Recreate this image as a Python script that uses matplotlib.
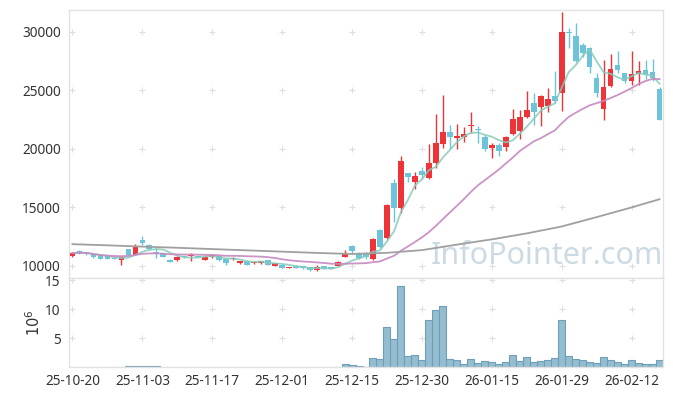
#!/usr/bin/env python3
"""Daily candles + moving averages + volume, 25-10-20 .. 26-02-23."""
import numpy as np
import pandas as pd
import matplotlib
matplotlib.use("Agg")
import matplotlib.pyplot as plt

# OHLC per trading day (KRW)
opens = [10830, 11230, 11170, 11000, 10890, 10800, 10630, 10520, 11430, 10940,
         12230, 11740, 11170, 11085, 10516, 10460, 10800, 10830, 10830, 10500,
         10700, 10800, 10540, 10560, 10200, 10430, 10200, 10200, 10460, 9970,
         10060, 9800, 10000, 9940, 9890, 9600, 9970, 9910, 9970, 10770,
         11650, 10970, 11030, 10544, 13050, 12396, 17040, 14960, 17895, 17182,
         18122, 17496, 18749, 20374, 21399, 20915, 21028, 21912, 21683, 20972,
         20088, 20288, 20117, 21256, 21541, 22738, 23878, 23536, 23678, 24504,
         24732, 30003, 29632, 28863, 28578, 26015, 23422, 25359, 27154, 26442,
         25815, 26357, 26699, 26556, 25131]
highs = [11170, 11310, 11200, 11060, 10920, 10830, 10680, 10780, 11460, 11860,
         12540, 11860, 11510, 11110, 10550, 10800, 10830, 11110, 10860, 10940,
         10950, 10860, 10560, 10700, 10420, 10460, 10380, 10390, 10480, 10230,
         10080, 9900, 10020, 9960, 9910, 10080, 10000, 9930, 10440, 11340,
         11740, 11160, 11160, 12370, 13100, 15250, 17439, 19376, 17950, 17980,
         18464, 20402, 22966, 24561, 22054, 22111, 21826, 23137, 21940, 21171,
         20459, 20459, 21085, 23365, 23308, 24960, 24789, 24560, 25160, 26669,
         31712, 30288, 30715, 29006, 28720, 26442, 27600, 28094, 28379, 26500,
         28379, 27524, 27581, 27638, 25245]
lows = [10770, 11030, 10950, 10680, 10560, 10540, 10560, 10050, 10900, 10880,
        11740, 11320, 10660, 10700, 10300, 10440, 10690, 10370, 10700, 10460,
        10650, 10420, 10030, 10450, 10180, 10030, 10150, 10180, 10040, 9950,
        9780, 9780, 9810, 9750, 9580, 9550, 9720, 9720, 9950, 10750,
        11030, 10550, 10550, 10500, 11500, 12300, 13763, 14533, 17182, 16527,
        17382, 17450, 18350, 20032, 19946, 19975, 20601, 21313, 20515, 19803,
        19177, 19376, 19832, 21142, 20801, 22596, 21997, 21940, 23165, 23878,
        23222, 28578, 27438, 27866, 26442, 24390, 22453, 25245, 26442, 25587,
        25444, 25444, 25929, 25815, 22453]
closes = [11085, 11120, 11060, 10720, 10600, 10600, 10590, 10740, 10940, 11710,
          11940, 11460, 11060, 10720, 10320, 10770, 10720, 10940, 10720, 10770,
          10880, 10460, 10260, 10640, 10400, 10060, 10300, 10370, 10060, 10200,
          9830, 9860, 9830, 9770, 9600, 9910, 9740, 9740, 10340, 11060,
          11280, 10690, 10710, 12282, 11570, 15160, 14903, 18948, 17553, 17695,
          17781, 18806, 20487, 21427, 20972, 21085, 21285, 21997, 21598, 19946,
          20316, 19775, 21028, 22510, 22738, 23308, 23165, 24504, 24248, 24105,
          29974, 29861, 27524, 28151, 27011, 24789, 25245, 26784, 26727, 25815,
          26385, 26642, 26271, 26015, 22453]

# volume in millions of shares
volume = [0.03, 0.03, 0.03, 0.03, 0.03, 0.03, 0.03, 0.03, 0.17, 0.17,
          0.17, 0.17, 0.17, 0.03, 0.03, 0.03, 0.03, 0.03, 0.03, 0.03,
          0.03, 0.03, 0.03, 0.03, 0.03, 0.03, 0.03, 0.03, 0.03, 0.03,
          0.03, 0.03, 0.03, 0.03, 0.03, 0.03, 0.03, 0.03, 0.03, 0.5,
          0.35, 0.17, 0.05, 1.55, 1.4, 6.85, 4.8, 13.95, 1.9, 2.05,
          1.25, 8.1, 9.8, 10.5, 1.4, 1.25, 0.6, 1.4, 0.7, 1.1,
          0.9, 0.6, 0.9, 2.05, 1.1, 1.7, 0.9, 1.1, 1.25, 1.55,
          8.1, 1.9, 1.4, 1.25, 0.9, 0.7, 1.7, 1.25, 0.9, 0.6,
          1.25, 0.7, 0.6, 0.6, 1.25]

# long moving average (needs history before the window)
ma_long_idx = [0, 5, 10, 15, 20, 25, 30, 35, 40, 45, 50, 55, 60, 65, 70, 75, 80, 84]
ma_long = [11840, 11740, 11630, 11530, 11420, 11310, 11200, 11090, 11000, 11100,
           11330, 11800, 12250, 12760, 13350, 14150, 14980, 15680]

tick_idx = [0, 10, 20, 30, 40, 50, 60, 70, 80]
tick_labels = ["25-10-20", "25-11-03", "25-11-17", "25-12-01", "25-12-15",
               "25-12-30", "26-01-15", "26-01-29", "26-02-12"]
price_ticks = [10000, 15000, 20000, 25000, 30000]
vol_ticks = [5, 10, 15]

RED = "#ee3339"
BLUE = "#6cc3da"
SPINE = "#e2e2e2"
CROSS = "#dedede"

plt.rcParams["font.family"] = ["Noto Sans", "DejaVu Sans"]

W, H = 673, 396
fig = plt.figure(figsize=(W / 100, H / 100), dpi=100)
ax = fig.add_axes([69 / W, 1 - 277.5 / H, (663 - 69) / W, (277.5 - 10) / H])
axv = fig.add_axes([69 / W, 1 - 367 / H, (663 - 69) / W, (367 - 278) / H], sharex=ax)

x = np.arange(len(closes))
o, h, l, c = (np.array(v, dtype=float) for v in (opens, highs, lows, closes))
col = np.where(c >= o, RED, BLUE)

# grid drawn as little crosses at tick intersections
gx, gy = np.meshgrid(tick_idx, price_ticks)
ax.plot(gx.ravel(), gy.ravel(), ls="none", marker="+", ms=4.5, mew=0.8, color=CROSS, zorder=0)
gx, gy = np.meshgrid(tick_idx, vol_ticks)
axv.plot(gx.ravel(), gy.ravel(), ls="none", marker="+", ms=4.5, mew=0.8, color=CROSS, zorder=0)

ax.text(0.805, 0.08, "InfoPointer.com", transform=ax.transAxes, ha="center", va="center",
        fontsize=22, color="#c2d4df", alpha=0.85, zorder=1)

# candles
ax.vlines(x, l, h, colors=col, lw=1.0, zorder=2)
ax.bar(x, np.maximum(np.abs(c - o), 70), bottom=np.minimum(o, c), width=0.82,
       color=col, linewidth=0, zorder=3)

s = pd.Series(closes, dtype=float)
ma5 = s.rolling(5, min_periods=1).mean()
ma20 = s.rolling(20, min_periods=1).mean()
ax.plot(x, ma5, color="#86cbbb", lw=1.3, alpha=0.85, zorder=4)
ax.plot(x, ma20, color="#c688c0", lw=1.3, alpha=0.9, zorder=4)
ax.plot(ma_long_idx, ma_long, color="#a0a0a0", lw=1.3, zorder=4)

ax.set_xlim(-0.5, 84.5)
ax.set_ylim(8990, 31855)
ax.set_yticks(price_ticks)
ax.tick_params(axis="x", labelbottom=False)

# volume
axv.bar(x, volume, width=1.0, color="#94bdd0", edgecolor="#6f9fb6", linewidth=0.8, zorder=2)
axv.set_ylim(0, 15.4)
axv.set_yticks(vol_ticks)
axv.set_xticks(tick_idx)
axv.set_xticklabels(tick_labels)
axv.set_ylabel(r"$10^{6}$", fontsize=10.5, color="#333333", labelpad=1)

for a in (ax, axv):
    a.tick_params(length=0, labelsize=9.8, colors="#333333", pad=6)
    for sp in a.spines.values():
        sp.set_color(SPINE)
        sp.set_linewidth(1.0)
axv.tick_params(axis="x", pad=5)

fig.savefig("out.png", dpi=100)
plt.close(fig)
